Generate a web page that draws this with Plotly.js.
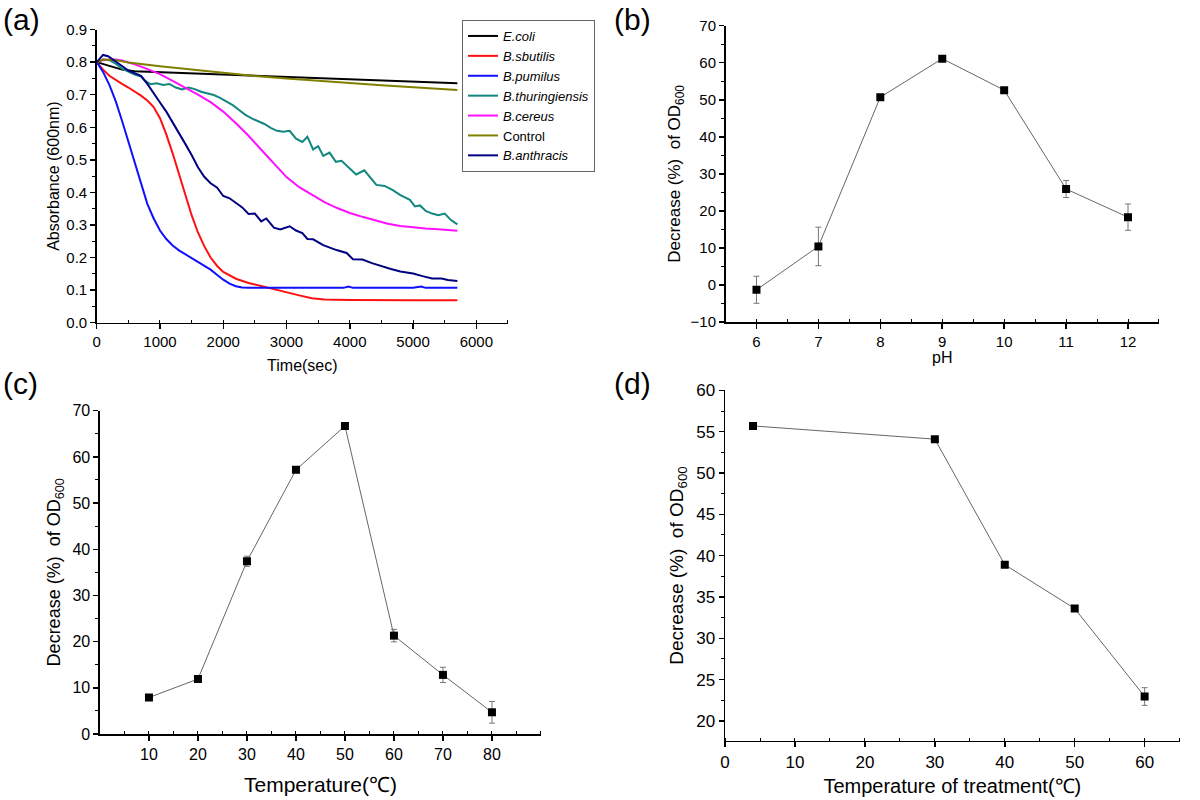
<!DOCTYPE html>
<html><head><meta charset="utf-8">
<script src="https://cdn.plot.ly/plotly-3.0.1.min.js"></script>
<style>html,body{margin:0;padding:0;background:#fff}#chart{width:1200px;height:800px}</style>
</head><body><div id="chart"></div>
<script>
// ---------- Panel (a): absorbance vs time ----------
const ecoliT = [0,200,400,600,1000,1500,2000,2500,3000,3500,4000,4500,5000,5500,5700];
const ecoliV = [0.800,0.788,0.777,0.772,0.769,0.766,0.763,0.759,0.755,0.750,0.746,0.744,0.740,0.737,0.735];

const subtilisT = [0,100,200,300,400,500,600,700,800,900,1000,1100,1200,1300,1400,1500,1600,1700,1800,1900,2000,2200,2400,2600,2800,3000,3200,3400,3600,4000,4500,5000,5700];
const subtilisV = [0.800,0.777,0.758,0.745,0.733,0.722,0.710,0.697,0.682,0.662,0.628,0.578,0.520,0.458,0.395,0.330,0.277,0.235,0.200,0.175,0.156,0.135,0.122,0.112,0.104,0.094,0.084,0.075,0.071,0.070,0.069,0.069,0.069];

const pumilusT = [0,100,200,300,400,500,600,700,800,900,1000,1100,1200,1300,1400,1500,1600,1700,1800,1900,2000,2100,2200,2300,2400,3000,3900,3980,4050,5000,5130,5200,5700];
const pumilusV = [0.800,0.770,0.730,0.680,0.620,0.555,0.490,0.425,0.365,0.320,0.283,0.257,0.237,0.222,0.210,0.199,0.188,0.176,0.163,0.147,0.132,0.120,0.112,0.108,0.107,0.107,0.107,0.111,0.107,0.107,0.111,0.107,0.107];

const thurT = [0,100,200,300,400,500,600,700,750,850,950,1050,1150,1250,1350,1450,1550,1650,1750,1850,1950,2050,2150,2250,2350,2450,2550,2650,2750,2850,2950,3050,3150,3250,3330,3420,3500,3580,3680,3780,3870,3970,4100,4230,4350,4420,4550,4680,4800,4950,5030,5110,5200,5300,5400,5500,5600,5700];
const thurV = [0.800,0.808,0.806,0.795,0.780,0.770,0.762,0.756,0.745,0.732,0.735,0.730,0.733,0.722,0.716,0.722,0.717,0.709,0.705,0.699,0.690,0.680,0.668,0.653,0.638,0.627,0.618,0.610,0.598,0.589,0.586,0.589,0.565,0.555,0.571,0.532,0.542,0.512,0.522,0.494,0.497,0.478,0.455,0.468,0.440,0.423,0.420,0.407,0.392,0.377,0.357,0.360,0.343,0.335,0.330,0.335,0.315,0.302];

const cereusT = [0,100,200,300,400,500,600,700,800,900,1000,1200,1400,1600,1800,2000,2200,2400,2600,2800,3000,3200,3400,3600,3800,4000,4200,4400,4600,4800,5000,5200,5400,5600,5700];
const cereusV = [0.800,0.806,0.808,0.808,0.805,0.800,0.793,0.786,0.779,0.771,0.763,0.742,0.722,0.700,0.677,0.648,0.612,0.574,0.531,0.488,0.447,0.416,0.392,0.370,0.352,0.337,0.325,0.314,0.304,0.297,0.292,0.289,0.287,0.283,0.282];

const controlT = [0,100,300,500,1000,1500,2000,2500,3000,3500,4000,4500,5000,5500,5700];
const controlV = [0.800,0.808,0.806,0.799,0.787,0.777,0.767,0.757,0.750,0.742,0.736,0.729,0.723,0.717,0.714];

const anthT = [0,100,180,300,400,500,600,700,800,900,1000,1100,1200,1300,1400,1500,1600,1700,1800,1900,2000,2100,2200,2300,2400,2500,2600,2680,2800,2900,3050,3150,3250,3330,3420,3580,3790,3950,4050,4200,4350,4500,4650,4800,5000,5150,5300,5450,5550,5700];
const anthV = [0.800,0.822,0.818,0.803,0.788,0.774,0.766,0.758,0.733,0.703,0.676,0.648,0.616,0.584,0.549,0.515,0.477,0.448,0.428,0.415,0.389,0.382,0.368,0.354,0.334,0.335,0.311,0.320,0.292,0.286,0.296,0.283,0.275,0.257,0.256,0.238,0.223,0.214,0.195,0.194,0.183,0.173,0.165,0.157,0.151,0.143,0.136,0.136,0.131,0.128];

const seriesNames = ['<i>E.coli</i>','<i>B.sbutilis</i>','<i>B.pumilus</i>','<i>B.thuringiensis</i>','<i>B.cereus</i>','Control','<i>B.anthracis</i>'];
const seriesColors = ['#000000','#ff1010','#1010ff','#12877f','#ff10ff','#7f7f00','#000080'];

// ---------- Panel (b): pH ----------
const pH = [6,7,8,9,10,11,12];
const pHDecrease = [-1.3,10.4,50.7,61.1,52.6,25.9,18.3];
const pHErr = [3.65,5.2,0,0,0,2.3,3.55];

// ---------- Panel (c): temperature ----------
const temp = [10,20,30,40,50,60,70,80];
const tempDecrease = [7.9,11.9,37.4,57.2,66.7,21.3,12.8,4.7];
const tempErr = [0,0,1.1,0,0,1.35,1.65,2.35];

// ---------- Panel (d): temperature of treatment ----------
const treatT = [4,30,40,50,60];
const treatDecrease = [55.7,54.1,38.9,33.6,22.95];
const treatErr = [0,0,0,0,1.07];

const FONT = 'Liberation Sans, Arial, sans-serif';
const yTitleOD = 'Decrease (%)  of OD<sub>600</sub>';

const xs = [ecoliT,subtilisT,pumilusT,thurT,cereusT,controlT,anthT];
const ys = [ecoliV,subtilisV,pumilusV,thurV,cereusV,controlV,anthV];

const traces = [];
for (let i = 0; i < xs.length; i++) {
  traces.push({x: xs[i], y: ys[i], type: 'scatter', mode: 'lines', name: seriesNames[i],
    line: {color: seriesColors[i], width: 2}, xaxis: 'x', yaxis: 'y', showlegend: true});
}
function pointTrace(x, y, err, xa, ya) {
  return {x: x, y: y, type: 'scatter', mode: 'lines+markers', xaxis: xa, yaxis: ya, showlegend: false,
    line: {color: '#666666', width: 1},
    marker: {symbol: 'square', size: 8, color: '#000000'},
    error_y: {type: 'data', array: err, visible: true, color: '#777777', thickness: 1, width: 3}};
}
traces.push(pointTrace(pH, pHDecrease, pHErr, 'x2', 'y2'));
traces.push(pointTrace(temp, tempDecrease, tempErr, 'x3', 'y3'));
traces.push(pointTrace(treatT, treatDecrease, treatErr, 'x4', 'y4'));

function axis(domain, range, anchor, opts, minorInside) {
  const a = {domain: domain, range: range, anchor: anchor, showline: true, linecolor: '#000', linewidth: 1.5,
    ticks: 'outside', ticklen: 5, tickwidth: 1.5, tickcolor: '#000', showgrid: false, zeroline: false,
    automargin: false, fixedrange: true,
    tickfont: {family: FONT, size: opts.tickSize, color: '#000'},
    minor: {ticks: minorInside ? 'inside' : 'outside', ticklen: 3, tickwidth: 1, tickcolor: '#000', showgrid: false}};
  if (opts.dtick !== undefined) { a.tick0 = opts.tick0 || 0; a.dtick = opts.dtick; }
  if (opts.tickvals) { a.tickmode = 'array'; a.tickvals = opts.tickvals; }
  if (opts.minor) { a.minor.dtick = opts.minor; a.minor.tick0 = opts.minor0 || 0; }
  if (opts.format) a.tickformat = opts.format;
  if (opts.title) a.title = {text: opts.title, font: {family: FONT, size: opts.titleSize, color: '#000'}, standoff: opts.standoff};
  return a;
}

const layout = {
  width: 1200, height: 800, margin: {l: 0, r: 0, t: 0, b: 0},
  paper_bgcolor: '#fff', plot_bgcolor: 'rgba(0,0,0,0)',
  font: {family: FONT, color: '#000'},
  xaxis: axis([0.0806, 0.4233], [0, 6500], 'y', {dtick: 1000, minor: 500, tickSize: 15, title: 'Time(sec)', titleSize: 16, standoff: 10}, true),
  yaxis: axis([0.5966, 0.9631], [0, 0.9], 'x', {dtick: 0.1, minor: 0.05, format: '.1f', tickSize: 15, title: 'Absorbance (600nm)', titleSize: 16, standoff: 2}, false),
  xaxis2: axis([0.6046, 0.9658], [5.5, 12.5], 'y2', {dtick: 1, minor: 0.5, minor0: 0.5, tickSize: 15, title: 'pH', titleSize: 16, standoff: 2}, true),
  yaxis2: axis([0.5975, 0.9679], [-10, 70], 'x2', {dtick: 10, minor: 5, tickSize: 15, title: yTitleOD, titleSize: 17, standoff: 5}, false),
  xaxis3: axis([0.0833, 0.4508], [0, 90], 'y3', {tickvals: [10,20,30,40,50,60,70,80], minor: 5, tickSize: 16, title: 'Temperature(℃)', titleSize: 21, standoff: 15}, true),
  yaxis3: axis([0.0825, 0.4866], [0, 70], 'x3', {dtick: 10, minor: 5, tickSize: 16, title: yTitleOD, titleSize: 18, standoff: 7}, false),
  xaxis4: axis([0.6042, 0.9830], [0, 65], 'y4', {dtick: 10, minor: 5, tickSize: 17, title: 'Temperature of treatment(℃)', titleSize: 20, standoff: 8}, true),
  yaxis4: axis([0.0741, 0.5120], [17.6, 60], 'x4', {dtick: 5, minor: 2.5, tickSize: 17, title: yTitleOD, titleSize: 19, standoff: 7}, false),
  legend: {x: 0.385, y: 0.975, xanchor: 'left', yanchor: 'top', bgcolor: '#fff', bordercolor: '#666', borderwidth: 1,
    font: {family: FONT, size: 13, color: '#000'}, tracegroupgap: 0},
  annotations: [
    {text: '(a)', x: 0.001, y: 0.976, xref: 'paper', yref: 'paper', xanchor: 'left', yanchor: 'middle', showarrow: false, font: {family: FONT, size: 30}},
    {text: '(b)', x: 0.510, y: 0.976, xref: 'paper', yref: 'paper', xanchor: 'left', yanchor: 'middle', showarrow: false, font: {family: FONT, size: 30}},
    {text: '(c)', x: 0.001, y: 0.521, xref: 'paper', yref: 'paper', xanchor: 'left', yanchor: 'middle', showarrow: false, font: {family: FONT, size: 30}},
    {text: '(d)', x: 0.510, y: 0.521, xref: 'paper', yref: 'paper', xanchor: 'left', yanchor: 'middle', showarrow: false, font: {family: FONT, size: 30}}
  ]
};

Plotly.newPlot('chart', traces, layout, {staticPlot: true, displayModeBar: false});
</script></body></html>
